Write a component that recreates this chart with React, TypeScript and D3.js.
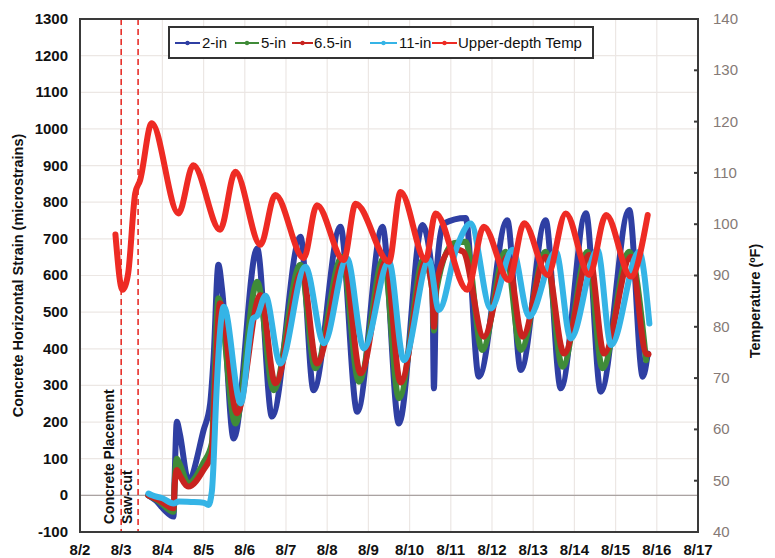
import React from "react";
import * as d3 from "d3";

// day of August, value
const blueData = [
  [3.66, 0], [3.85, -15], [4.05, -40], [4.27, -58], [4.3, 60], [4.35, 201], [4.42, 170],
  [4.63, 42], [5.0, 178], [5.16, 251], [5.24, 370], [5.36, 629], [5.45, 560], [5.73, 155],
  [6.3, 674], [6.66, 215], [7.35, 706], [7.67, 287], [8.32, 733], [8.73, 228], [9.34, 733],
  [9.74, 196], [10.31, 738], [10.55, 600], [10.59, 292], [10.65, 600], [10.83, 742],
  [11.36, 757], [11.68, 324], [12.37, 751], [12.7, 342], [13.3, 751], [13.67, 292],
  [14.28, 770], [14.64, 283], [15.33, 779], [15.66, 324], [15.78, 387],
];

const greenData = [
  [3.66, 0], [3.9, -15], [4.27, -45], [4.3, 40], [4.35, 100], [4.42, 85], [4.63, 33],
  [5.0, 90], [5.2, 142], [5.26, 300], [5.36, 538], [5.77, 196], [6.3, 583], [6.7, 287],
  [7.35, 629], [7.71, 347], [8.36, 651], [8.77, 310], [9.37, 647], [9.74, 265], [10.35, 647],
  [10.55, 560], [10.59, 450], [10.65, 560], [11.07, 688], [11.36, 692], [11.76, 397],
  [12.33, 665], [12.7, 397], [13.3, 665], [13.71, 351], [14.32, 665], [14.68, 347],
  [15.33, 665], [15.74, 369],
];

const redData = [
  [3.66, 0], [3.9, -12], [4.27, -35], [4.3, 30], [4.35, 69], [4.42, 55], [4.63, 24],
  [5.0, 70], [5.2, 115], [5.27, 280], [5.4, 524], [5.81, 224], [6.38, 547], [6.74, 306],
  [7.39, 610], [7.75, 360], [8.4, 638], [8.81, 333], [9.42, 638], [9.78, 308], [10.39, 638],
  [10.55, 560], [10.59, 460], [10.65, 580], [11.03, 674], [11.3, 665], [11.8, 433],
  [12.37, 651], [12.74, 433], [13.3, 651], [13.75, 387], [14.36, 656], [14.72, 387],
  [15.37, 651], [15.74, 387], [15.8, 385],
];

const lightBlueData = [
  [3.66, 5], [3.75, 0], [4.0, -8], [4.27, -22], [4.4, -17], [4.7, -18], [5.0, -20],
  [5.12, -26], [5.2, 10], [5.24, 83], [5.3, 250], [5.49, 515], [5.9, 251], [6.2, 483],
  [6.3, 490], [6.5, 545], [6.86, 360], [7.47, 624], [7.92, 415], [8.48, 647], [8.89, 401],
  [9.5, 638], [9.86, 369], [10.47, 642], [10.71, 506], [11.15, 679], [11.48, 742],
  [11.97, 510], [12.5, 670], [12.9, 488], [13.55, 665], [13.91, 428], [14.56, 670],
  [14.89, 410], [15.57, 665], [15.82, 469],
];

const tempData = [
  [2.86, 98], [3.03, 87.2], [3.1, 88], [3.17, 90.5], [3.34, 106], [3.46, 108.6],
  [3.74, 119.7], [4.39, 102.1], [4.75, 111.5], [5.4, 98.9], [5.77, 110.2], [6.38, 96],
  [6.74, 105.7], [7.43, 93.4], [7.75, 103.7], [8.4, 93], [8.69, 104], [9.5, 92.7],
  [9.78, 106.3], [10.39, 93], [10.63, 102.1], [11.4, 87.2], [11.8, 99.5], [12.41, 89.1],
  [12.78, 100.2], [13.35, 90.1], [13.79, 102.1], [14.36, 90.1], [14.77, 101.8],
  [15.37, 89.8], [15.78, 101.8],
];

const dayTicks = [2, 3, 4, 5, 6, 7, 8, 9, 10, 11, 12, 13, 14, 15, 16, 17];
const dayLabels = ["8/2", "8/3", "8/4", "8/5", "8/6", "8/7", "8/8", "8/9", "8/10", "8/11", "8/12", "8/13", "8/14", "8/15", "8/16", "8/17"];
const strainTicks = [-100, 0, 100, 200, 300, 400, 500, 600, 700, 800, 900, 1000, 1100, 1200, 1300];
const tempTicks = [40, 50, 60, 70, 80, 90, 100, 110, 120, 130, 140];
const eventDays = [3.0, 3.41];
const eventLabels = ["Concrete Placement", "Saw-cut"];

const strainSeries = [
  { name: "2-in", data: blueData, color: "#2f3fa3" },
  { name: "5-in", data: greenData, color: "#3f8b38" },
  { name: "6.5-in", data: redData, color: "#c8231f" },
  { name: "11-in", data: lightBlueData, color: "#35b4e6" },
];
const tempColor = "#ee2b24";

const W = 775;
const H = 558;
const margin = { left: 80, right: 77, top: 19, bottom: 26 };
const font = "'Liberation Sans', Arial, sans-serif";

export default function App() {
  const x = d3.scaleLinear().domain([2, 17]).range([margin.left, W - margin.right]);
  const y = d3.scaleLinear().domain([-100, 1300]).range([H - margin.bottom, margin.top]);
  const yT = d3.scaleLinear().domain([40, 140]).range([H - margin.bottom, margin.top]);

  const strainLine = d3
    .line<number[]>()
    .x((d) => x(d[0]))
    .y((d) => y(d[1]))
    .curve(d3.curveMonotoneX);
  const tempLine = d3
    .line<number[]>()
    .x((d) => x(d[0]))
    .y((d) => yT(d[1]))
    .curve(d3.curveMonotoneX);

  const x0 = margin.left;
  const x1 = W - margin.right;
  const y0 = H - margin.bottom;
  const y1 = margin.top;

  const legendItems = [
    { name: "2-in", color: strainSeries[0].color, lx: 175, lw: 25, tx: 202 },
    { name: "5-in", color: strainSeries[1].color, lx: 235, lw: 24, tx: 261 },
    { name: "6.5-in", color: strainSeries[2].color, lx: 292, lw: 21, tx: 314 },
    { name: "11-in", color: strainSeries[3].color, lx: 370, lw: 27, tx: 399 },
    { name: "Upper-depth Temp", color: tempColor, lx: 432, lw: 25, tx: 458 },
  ];

  return (
    <svg
      width={W}
      height={H}
      style={{ position: "absolute", left: 0, top: 0, background: "#fff" }}
      fontFamily={font}
    >
      {/* grid */}
      {strainTicks.map((t) => (
        <line key={"h" + t} x1={x0} x2={x1} y1={y(t)} y2={y(t)} stroke="#ece7e4" strokeWidth={1.2} />
      ))}
      {dayTicks.map((d) => (
        <line key={"v" + d} x1={x(d)} x2={x(d)} y1={y1} y2={y0} stroke="#ece7e4" strokeWidth={1.2} />
      ))}
      <line x1={x0} x2={x1} y1={y(0)} y2={y(0)} stroke="#aaa3a2" strokeWidth={1.2} />

      {/* events */}
      {eventDays.map((d) => (
        <line key={"e" + d} x1={x(d)} x2={x(d)} y1={y1} y2={y0} stroke="#e8302a" strokeWidth={1.6} strokeDasharray="6,4" />
      ))}
      {eventLabels.map((l, i) => (
        <text
          key={l}
          transform={`translate(${x(eventDays[i]) - (i === 0 ? 11 : 10)},${y0 - 8}) rotate(-90)`}
          fontSize={14}
          fontWeight="bold"
          fill="#111"
          dominantBaseline="middle"
        >
          {l}
        </text>
      ))}

      {/* series */}
      {strainSeries.map((s) => (
        <path
          key={s.name}
          d={strainLine(s.data) || ""}
          fill="none"
          stroke={s.color}
          strokeWidth={6}
          strokeLinejoin="round"
          strokeLinecap="round"
        />
      ))}
      <path
        d={tempLine(tempData) || ""}
        fill="none"
        stroke={tempColor}
        strokeWidth={6}
        strokeLinejoin="round"
        strokeLinecap="round"
      />

      {/* frame */}
      <rect x={x0} y={y1} width={x1 - x0} height={y0 - y1} fill="none" stroke="#3a3a3a" strokeWidth={2} />

      {/* left axis */}
      {strainTicks.map((t) => (
        <text key={"yl" + t} x={x0 - 12} y={y(t) + 1} textAnchor="end" dominantBaseline="middle" fontSize={15} fontWeight="bold" fill="#111">
          {t}
        </text>
      ))}
      {/* right axis */}
      {tempTicks.map((t) => (
        <g key={"yr" + t}>
          <line x1={x1 - 4} x2={x1} y1={yT(t)} y2={yT(t)} stroke="#3a3a3a" strokeWidth={2} />
          <text x={x1 + 15} y={yT(t) + 1} dominantBaseline="middle" fontSize={15} fill="#857a76">
            {t}
          </text>
        </g>
      ))}
      {/* x axis */}
      {dayTicks.map((d, i) => (
        <text key={"xl" + d} x={x(d)} y={551} textAnchor="middle" dominantBaseline="middle" fontSize={15} fontWeight="bold" fill="#111">
          {dayLabels[i]}
        </text>
      ))}

      {/* axis titles */}
      <text transform={`translate(19,${(y0 + y1) / 2}) rotate(-90)`} textAnchor="middle" dominantBaseline="middle" fontSize={14.5} fontWeight="bold" fill="#111">
        Concrete Horizontal Strain (microstrains)
      </text>
      <text transform={`translate(756,301) rotate(-90)`} textAnchor="middle" dominantBaseline="middle" fontSize={14.5} fontWeight="bold" fill="#111">
        Temperature (ºF)
      </text>

      {/* legend */}
      <rect x={169} y={27} width={424} height={31} fill="#fff" stroke="#333" strokeWidth={2} />
      {legendItems.map((l) => (
        <g key={"lg" + l.name}>
          <line x1={l.lx} x2={l.lx + l.lw} y1={43} y2={43} stroke={l.color} strokeWidth={2} />
          <circle cx={l.lx + l.lw / 2} cy={43} r={2.2} fill={l.color} />
          <text x={l.tx} y={44} dominantBaseline="middle" fontSize={15} fill="#111">
            {l.name}
          </text>
        </g>
      ))}
    </svg>
  );
}
